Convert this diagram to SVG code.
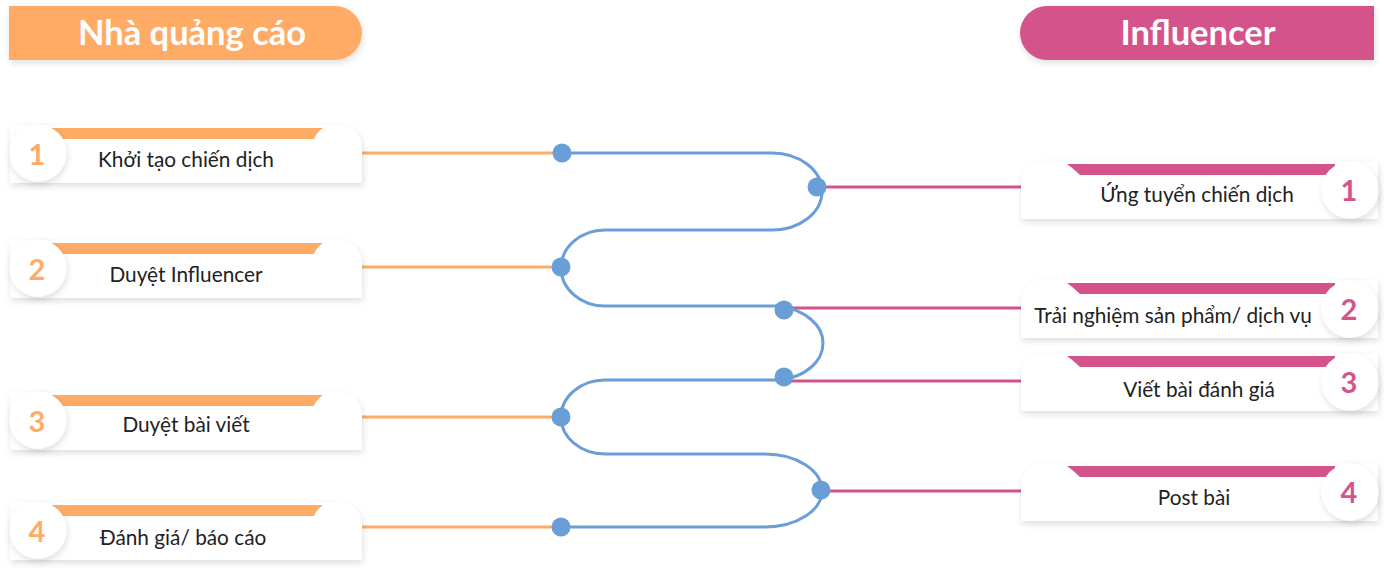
<svg xmlns="http://www.w3.org/2000/svg" xmlns:xlink="http://www.w3.org/1999/xlink" width="1384" height="571" viewBox="0 0 1384 571">
<defs>
<filter id="sh" x="-10%" y="-30%" width="120%" height="170%">
<feDropShadow dx="1" dy="3" stdDeviation="3" flood-color="#000" flood-opacity="0.13"/>
</filter>
<path id="lbox" d="M10,0 H336 Q362,0 362,26 V58 H10 Z"/>
<path id="lband" d="M50,3 H323 Q316,8 314,14 H50 Z"/>
<path id="rbox" d="M1378,0 H1047 Q1021,0 1021,26 V58 H1378 Z"/>
<path id="rband" d="M1067,3 H1335 V14 H1080 Q1074,8 1067,3 Z"/>
</defs>
<style>
.box{fill:#fff;filter:url(#sh)}
.circ{fill:#fff;filter:url(#sh)}
.ob{fill:#FFAB66}
.pb{fill:#D4538B}
.lbl{font-family:Lato,"Noto Sans",sans-serif;font-size:20.8px;fill:#222;text-anchor:middle}
.onum{font-family:Lato,"Noto Sans",sans-serif;font-size:29px;font-weight:bold;fill:#FFAB66;text-anchor:middle}
.pnum{font-family:Lato,"Noto Sans",sans-serif;font-size:29px;font-weight:bold;fill:#D4538B;text-anchor:middle}
.hdr{font-family:Lato,"Noto Sans",sans-serif;font-size:34.5px;font-weight:bold;fill:#fff;text-anchor:middle}
.ol{stroke:#FFAB66;stroke-width:3;fill:none}
.pl{stroke:#D4538B;stroke-width:3;fill:none}
.bl{stroke:#6A9ED6;stroke-width:3;fill:none}
.dot{fill:#6A9ED6}
</style>
<rect width="1384" height="571" fill="#fff"/>

<g id="hdr-left">
<path d="M9,6 H335 A27,27 0 0 1 335,60 H9 Z" fill="#FFAB66" filter="url(#sh)"/>
<text class="hdr" x="192" y="45">Nhà quảng cáo</text>
</g>
<g id="hdr-right">
<path d="M1374,6 H1047 A27,27 0 0 0 1047,60 H1374 Z" fill="#D4538B" filter="url(#sh)"/>
<text class="hdr" x="1198" y="45">Influencer</text>
</g>

<g id="connectors">
<line class="ol" x1="362" y1="153" x2="562" y2="153"/>
<line class="ol" x1="362" y1="267" x2="561" y2="267"/>
<line class="ol" x1="362" y1="417" x2="561" y2="417"/>
<line class="ol" x1="362" y1="527" x2="561" y2="527"/>
<line class="pl" x1="817" y1="187" x2="1021" y2="187"/>
<line class="pl" x1="784" y1="308" x2="1021" y2="308"/>
<line class="pl" x1="784" y1="381" x2="1021" y2="381"/>
<line class="pl" x1="821" y1="491" x2="1021" y2="491"/>
<path class="bl" d="M562,153 H772 A50,38.5 0 0 1 772,230 H605 A44,38 0 0 0 605,306 H780 C805,310 823,325 823,343 C823,362 805,377 780,380 H605 A44,37 0 0 0 605,454 H765 A57,36.5 0 0 1 765,527 H561"/>
<circle class="dot" cx="562" cy="153" r="9.5"/>
<circle class="dot" cx="817" cy="187" r="9.5"/>
<circle class="dot" cx="561" cy="267" r="9.5"/>
<circle class="dot" cx="784" cy="310" r="9.5"/>
<circle class="dot" cx="784" cy="377" r="9.5"/>
<circle class="dot" cx="561" cy="417" r="9.5"/>
<circle class="dot" cx="821" cy="490" r="9.5"/>
<circle class="dot" cx="561" cy="527" r="9.5"/>
</g>

<g id="l1" transform="translate(0,125)">
<use xlink:href="#lbox" class="box"/><use xlink:href="#lband" class="ob"/>
<circle class="circ" cx="38" cy="28" r="28.5"/>
<text class="onum" x="37" y="40">1</text>
<text class="lbl" x="186" y="42">Khởi tạo chiến dịch</text>
</g>
<g id="l2" transform="translate(0,240)">
<use xlink:href="#lbox" class="box"/><use xlink:href="#lband" class="ob"/>
<circle class="circ" cx="38" cy="28" r="28.5"/>
<text class="onum" x="37" y="40">2</text>
<text class="lbl" x="186" y="42">Duyệt Influencer</text>
</g>
<g id="l3" transform="translate(0,392)">
<use xlink:href="#lbox" class="box"/><use xlink:href="#lband" class="ob"/>
<circle class="circ" cx="38" cy="28" r="28.5"/>
<text class="onum" x="37" y="40">3</text>
<text class="lbl" x="186" y="40">Duyệt bài viết</text>
</g>
<g id="l4" transform="translate(0,502)">
<use xlink:href="#lbox" class="box"/><use xlink:href="#lband" class="ob"/>
<circle class="circ" cx="38" cy="28" r="28.5"/>
<text class="onum" x="37" y="40">4</text>
<text class="lbl" x="183" y="43">Đánh giá/ báo cáo</text>
</g>

<g id="r1" transform="translate(0,161)">
<use xlink:href="#rbox" class="box"/><use xlink:href="#rband" class="pb"/>
<circle class="circ" cx="1350" cy="29" r="28.5"/>
<text class="pnum" x="1349" y="40">1</text>
<text class="lbl" x="1197" y="41">Ứng tuyển chiến dịch</text>
</g>
<g id="r2" transform="translate(0,280)">
<use xlink:href="#rbox" class="box"/><use xlink:href="#rband" class="pb"/>
<circle class="circ" cx="1350" cy="29" r="28.5"/>
<text class="pnum" x="1349" y="40">2</text>
<text class="lbl" x="1173" y="43">Trải nghiệm sản phẩm/ dịch vụ</text>
</g>
<g id="r3" transform="translate(0,353)">
<use xlink:href="#rbox" class="box"/><use xlink:href="#rband" class="pb"/>
<circle class="circ" cx="1350" cy="29" r="28.5"/>
<text class="pnum" x="1349" y="40">3</text>
<text class="lbl" x="1199" y="44">Viết bài đánh giá</text>
</g>
<g id="r4" transform="translate(0,463)">
<use xlink:href="#rbox" class="box"/><use xlink:href="#rband" class="pb"/>
<circle class="circ" cx="1350" cy="29" r="28.5"/>
<text class="pnum" x="1349" y="40">4</text>
<text class="lbl" x="1194" y="42">Post bài</text>
</g>
</svg>
